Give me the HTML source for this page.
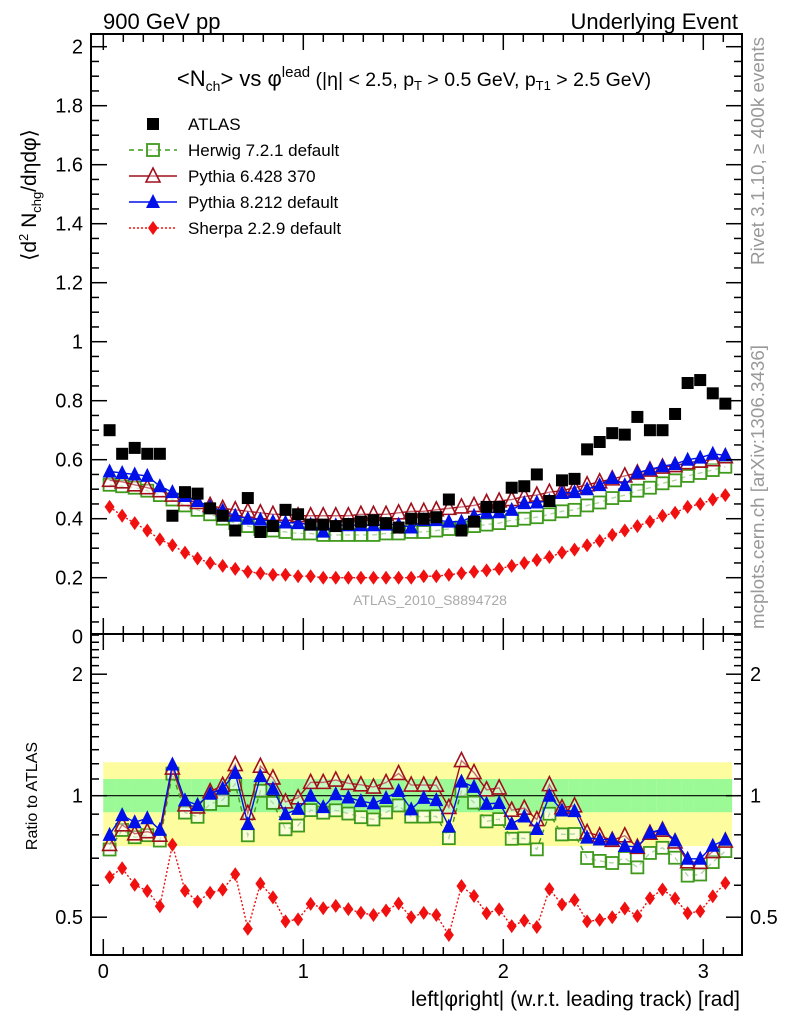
<!DOCTYPE html>
<html><head><meta charset="utf-8"><style>
body{margin:0;background:#fff;}
svg{display:block;font-family:"Liberation Sans",sans-serif;}
</style></head><body>
<svg id="chart" width="786" height="1024" viewBox="0 0 786 1024" xmlns="http://www.w3.org/2000/svg">
<rect x="0" y="0" width="786" height="1024" fill="#fff"/>
<g id="ratioBands"></g>
<g id="marks"></g>
<g id="axes"></g>
<text x="103" y="29" font-size="22">900 GeV pp</text>
<text x="738" y="29" font-size="22" text-anchor="end">Underlying Event</text>
<text x="414" y="86" font-size="22" text-anchor="middle">&lt;N<tspan font-size="14" dy="5">ch</tspan><tspan dy="-5">&gt; vs φ</tspan><tspan font-size="15" dy="-9">lead</tspan><tspan dy="9" font-size="19.5"> (|η| &lt; 2.5, p</tspan><tspan font-size="13" dy="4">T</tspan><tspan font-size="19.5" dy="-4"> &gt; 0.5 GeV, p</tspan><tspan font-size="13" dy="4">T1</tspan><tspan font-size="19.5" dy="-4"> &gt; 2.5 GeV)</tspan></text>
<text transform="translate(36,195) rotate(-90)" font-size="21" text-anchor="middle">⟨d<tspan font-size="13" dy="-8">2</tspan><tspan dy="8"> N</tspan><tspan font-size="13" dy="5">chg</tspan><tspan dy="-5">/dηdφ⟩</tspan></text>
<text transform="translate(37,796) rotate(-90)" font-size="16" text-anchor="middle">Ratio to ATLAS</text>
<text x="740" y="1006" font-size="21" text-anchor="end">left|φright| (w.r.t. leading track) [rad]</text>
<text transform="translate(764,265) rotate(-90)" font-size="18" fill="#999" textLength="228" lengthAdjust="spacingAndGlyphs">Rivet 3.1.10, ≥ 400k events</text>
<text transform="translate(764,629) rotate(-90)" font-size="18" fill="#999" textLength="284" lengthAdjust="spacingAndGlyphs">mcplots.cern.ch [arXiv:1306.3436]</text>
<text x="430" y="605" font-size="14" fill="#aaa" text-anchor="middle">ATLAS_2010_S8894728</text>
<g id="legend"></g>
</svg>
<script>
const atlas=[0.70,0.62,0.64,0.62,0.62,0.41,0.49,0.485,0.435,0.41,0.36,0.47,0.355,0.375,0.43,0.415,0.38,0.38,0.375,0.382,0.39,0.395,0.385,0.37,0.40,0.40,0.405,0.465,0.36,0.39,0.44,0.44,0.505,0.51,0.55,0.46,0.53,0.535,0.635,0.66,0.69,0.685,0.745,0.70,0.70,0.755,0.86,0.87,0.825,0.79];
const herwig=[0.515,0.51,0.505,0.495,0.48,0.465,0.445,0.43,0.415,0.40,0.385,0.375,0.365,0.36,0.355,0.35,0.35,0.345,0.345,0.345,0.345,0.345,0.35,0.35,0.355,0.355,0.36,0.365,0.37,0.375,0.38,0.385,0.395,0.40,0.405,0.415,0.425,0.43,0.445,0.455,0.47,0.48,0.495,0.505,0.52,0.53,0.545,0.555,0.565,0.576];
const pythia6=[0.53,0.525,0.515,0.505,0.495,0.48,0.465,0.455,0.445,0.435,0.43,0.425,0.42,0.415,0.415,0.41,0.41,0.41,0.41,0.41,0.415,0.415,0.415,0.42,0.425,0.425,0.43,0.435,0.44,0.445,0.455,0.46,0.465,0.475,0.48,0.49,0.495,0.505,0.515,0.525,0.535,0.545,0.555,0.565,0.575,0.58,0.59,0.595,0.60,0.61];
const pythia8=[0.56,0.555,0.55,0.545,0.51,0.49,0.477,0.46,0.44,0.427,0.41,0.40,0.397,0.39,0.387,0.385,0.38,0.356,0.378,0.378,0.378,0.378,0.38,0.38,0.37,0.395,0.395,0.39,0.39,0.41,0.42,0.422,0.43,0.453,0.455,0.46,0.487,0.49,0.50,0.514,0.538,0.514,0.556,0.567,0.578,0.585,0.60,0.607,0.62,0.615];
const sherpa=[0.44,0.41,0.385,0.36,0.33,0.31,0.285,0.265,0.25,0.24,0.23,0.22,0.215,0.21,0.21,0.205,0.205,0.2,0.2,0.2,0.2,0.2,0.2,0.2,0.2,0.205,0.205,0.21,0.215,0.22,0.225,0.23,0.24,0.25,0.26,0.27,0.285,0.295,0.31,0.325,0.345,0.36,0.375,0.39,0.41,0.42,0.44,0.45,0.465,0.48];
const bandYellowUp=0.21, bandYellowDown=0.25, bandGreenUp=0.10, bandGreenDown=0.09;
const xTickLabels=["0","1","2","3"];
const yTickLabels=["0","0.2","0.4","0.6","0.8","1","1.2","1.4","1.6","1.8","2"];
const ratioTickLabels=["0.5","1","2"];

const NS="http://www.w3.org/2000/svg";
const L=91,R=742,T=34,MB=634,RB=955;
const nb=atlas.length, bw=Math.PI/nb;
const X=v=>103.3+200*v;
const Y=v=>636.7-295*v;
const YR=r=>795.7-121.5*Math.log2(r);
function mk(tag,at,parent){const e=document.createElementNS(NS,tag);for(const k in at)e.setAttribute(k,at[k]);(parent||document.getElementById('chart')).appendChild(e);return e;}
const marks=document.getElementById('marks'), axes=document.getElementById('axes');
const cx=i=>X((i+0.5)*bw);

const bands=document.getElementById('ratioBands');
for(let i=0;i<nb;i++){
  const x0=X(i*bw),x1=X((i+1)*bw);
  const y=mk('rect',{x:x0,y:YR(1+bandYellowUp),width:x1-x0+0.5,height:YR(1-bandYellowDown)-YR(1+bandYellowUp),fill:'#fdfd9f'},bands);
  
  
  const g=mk('rect',{x:x0,y:YR(1+bandGreenUp),width:x1-x0+0.5,height:YR(1-bandGreenDown)-YR(1+bandGreenUp),fill:'#9bf996'},bands);
  
  
}
const one=mk('line',{x1:X(0),x2:X(Math.PI),y1:YR(1),y2:YR(1),stroke:'#000','stroke-width':1.2},marks);



function marker(type,x,y,col,parent){
  let e;
  if(type==='sq') e=mk('rect',{x:x-6,y:y-6,width:12,height:12,fill:'#000'},parent);
  else if(type==='osq') e=mk('rect',{x:x-6,y:y-6,width:12,height:12,fill:'#fff','fill-opacity':0.6,stroke:col,'stroke-width':1.8},parent);
  else if(type==='otri') e=mk('polygon',{points:`${x-7},${y+6} ${x+7},${y+6} ${x},${y-8}`,fill:'#fff','fill-opacity':0.4,stroke:col,'stroke-width':1.6},parent);
  else if(type==='tri') e=mk('polygon',{points:`${x-7},${y+6} ${x+7},${y+6} ${x},${y-8}`,fill:col},parent);
  else e=mk('polygon',{points:`${x},${y-7} ${x+5},${y} ${x},${y+7} ${x-5},${y}`,fill:col},parent);
  return e;
}
const series=[
 {name:'herwig',data:herwig,col:'#3f9a1c',mk:'osq',dash:'5,4'},
 {name:'pythia6',data:pythia6,col:'#a0101c',mk:'otri',dash:''},
 {name:'pythia8',data:pythia8,col:'#0010e8',mk:'tri',dash:''},
 {name:'sherpa',data:sherpa,col:'#f01010',mk:'dia',dash:'2,2'}
];
function drawSeries(s,ratio){
  const g=mk('g',{},marks);
  
  
  const vals=s.data.map((v,i)=>ratio?v/atlas[i]:v);
  const yf=ratio?YR:Y;
  const pts=vals.map((v,i)=>cx(i)+','+yf(v)).join(' ');
  const pl=mk('polyline',{points:pts,fill:'none',stroke:s.col,'stroke-width':1.4,'stroke-dasharray':s.dash},g);
  
  
  vals.forEach((v,i)=>{const m=marker(s.mk,cx(i),yf(v),s.col,g);
    
    });
}
series.forEach(s=>{drawSeries(s,false);drawSeries(s,true);});
const ag=mk('g',{},marks);


atlas.forEach((v,i)=>{const m=marker('sq',cx(i),Y(v),'#000',ag);
  
  });

[[T,MB],[MB,RB]].forEach(([t,b],k)=>{const f=mk('rect',{x:L,y:t,width:R-L,height:b-t,fill:'none',stroke:'#000','stroke-width':2},axes);
  
  });
for(let k=0;k<=32;k++){const v=k/10,x=X(v);if(x>R)break;const maj=k%10===0,len=maj?16:8;
  [[T,1],[MB,-1],[MB,1],[RB,-1]].forEach(([y,d])=>mk('line',{x1:x,x2:x,y1:y,y2:y+d*len,stroke:'#000','stroke-width':1.5},axes));}
xTickLabels.forEach(t=>{const e=mk('text',{x:X(+t),y:978,'font-size':20,'text-anchor':'middle'},axes);e.textContent=t;
  
  });
for(let k=0;k<=41;k++){const v=k*0.05,y=Y(v);if(y<T||y>MB)continue;const maj=k%4===0,len=maj?16:8;
  mk('line',{x1:L,x2:L+len,y1:y,y2:y,stroke:'#000','stroke-width':1.5},axes);
  mk('line',{x1:R,x2:R-len,y1:y,y2:y,stroke:'#000','stroke-width':1.5},axes);}
yTickLabels.forEach(t=>{const e=mk('text',{x:83,y:Y(+t)+7,'font-size':20,'text-anchor':'end'},axes);e.textContent=t;
  
  });
[0.4,0.5,0.6,0.7,0.8,0.9,1,1.1,1.2,1.3,1.4,1.5,1.6,1.7,1.8,1.9,2,2.1,2.2,2.3,2.4,2.5].forEach(v=>{const y=YR(v);if(y<MB||y>RB)return;const maj=(v===0.5||v===1||v===2),len=maj?16:8;
  mk('line',{x1:L,x2:L+len,y1:y,y2:y,stroke:'#000','stroke-width':1.5},axes);
  mk('line',{x1:R,x2:R-len,y1:y,y2:y,stroke:'#000','stroke-width':1.5},axes);});
ratioTickLabels.forEach(t=>{const y=YR(+t)+7;
  const a=mk('text',{x:83,y:y,'font-size':20,'text-anchor':'end'},axes);a.textContent=t;
  
  
  const b=mk('text',{x:750,y:y,'font-size':20},axes);b.textContent=t;
  
  });

const lg=document.getElementById('legend');
const entries=[['ATLAS',null],['Herwig 7.2.1 default',series[0]],['Pythia 6.428 370',series[1]],['Pythia 8.212 default',series[2]],['Sherpa 2.2.9 default',series[3]]];
entries.forEach(([txt,s],i)=>{const y=124+26*i;
  const g=mk('g',{},lg);
  
  
  if(s){mk('line',{x1:129,x2:177,y1:y,y2:y,stroke:s.col,'stroke-width':1.4,'stroke-dasharray':s.dash},g);marker(s.mk,153,y,s.col,g);}
  else marker('sq',153,y,'#000',g);
  const t=mk('text',{x:188,y:y+6,'font-size':17},g);t.textContent=txt;});
</script>
</body></html>
